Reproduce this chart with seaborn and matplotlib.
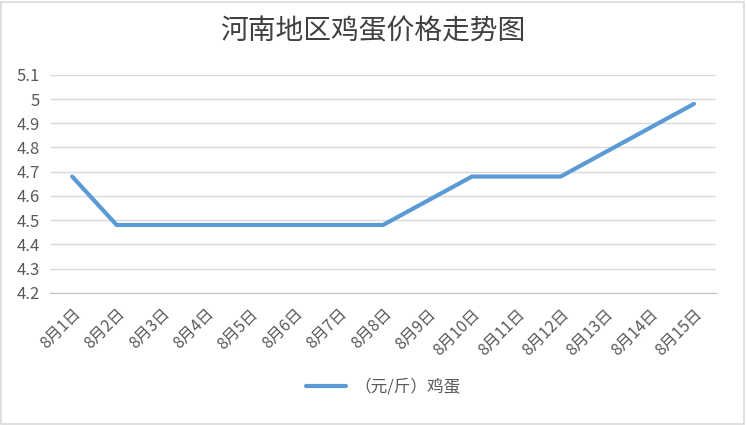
import numpy as np
import pandas as pd
import matplotlib
matplotlib.use("Agg")
import matplotlib.pyplot as plt
import seaborn as sns
from matplotlib.patches import Rectangle

# Data
dates = ["8月1日", "8月2日", "8月3日", "8月4日", "8月5日", "8月6日", "8月7日", "8月8日",
         "8月9日", "8月10日", "8月11日", "8月12日", "8月13日", "8月14日", "8月15日"]
prices = [4.68, 4.48, 4.48, 4.48, 4.48, 4.48, 4.48, 4.48,
          4.58, 4.68, 4.68, 4.68, 4.78, 4.88, 4.98]
y_ticks = [4.2, 4.3, 4.4, 4.5, 4.6, 4.7, 4.8, 4.9, 5.0, 5.1]
y_labels = ["4.2", "4.3", "4.4", "4.5", "4.6", "4.7", "4.8", "4.9", "5", "5.1"]
series_name = "（元/斤）鸡蛋"
title = "河南地区鸡蛋价格走势图"

sns.set_style("white")
plt.rcParams['font.family'] = ['Noto Sans CJK SC', 'DejaVu Sans']

df = pd.DataFrame({"idx": np.arange(len(dates)), "price": prices, "series": series_name})

fig = plt.figure(figsize=(7.46, 4.25), dpi=100)
ax = fig.add_axes([0.067, 0.311, 0.893, 0.513])

sns.lineplot(data=df, x="idx", y="price", hue="series", palette=["#5B9BD5"],
             linewidth=3, ax=ax, legend=True)

ax.set_xlim(-0.5, len(dates) - 0.5)
ax.set_ylim(4.2, 5.1)
ax.set_yticks(y_ticks)
ax.set_yticklabels(y_labels)
ax.yaxis.grid(True, color="#D9D9D9", linewidth=1)
ax.xaxis.grid(False)

ax.set_xticks(np.arange(len(dates)))
ax.set_xticklabels(dates, rotation=45, ha="right", rotation_mode="anchor")
ax.set_xticks(np.arange(len(dates) + 1) - 0.5, minor=True)
ax.tick_params(axis="x", which="major", length=0, pad=9, labelsize=11.5, colors="#595959")
ax.tick_params(axis="x", which="minor", length=5, color="#BFBFBF", width=1)
ax.tick_params(axis="y", length=0, labelsize=12, colors="#595959", pad=7)

for side in ["top", "right", "left"]:
    ax.spines[side].set_visible(False)
ax.spines["bottom"].set_color("#BFBFBF")
ax.set_xlabel("")
ax.set_ylabel("")

leg = ax.legend(loc="upper center", bbox_to_anchor=(0.5, -0.325), frameon=False,
                fontsize=12, handlelength=2.4, handletextpad=0.5, labelcolor="#595959")
for line in leg.get_lines():
    line.set_linewidth(3)

fig.text(0.5, 0.925, title, ha="center", va="center", fontsize=20, color="#404040")

# Outer chart border
fig.patches.append(Rectangle((0.002, 0.003), 0.995, 0.993, transform=fig.transFigure,
                             fill=False, edgecolor="#D9D9D9", linewidth=1.2))

fig.savefig("out.png", dpi=100)
